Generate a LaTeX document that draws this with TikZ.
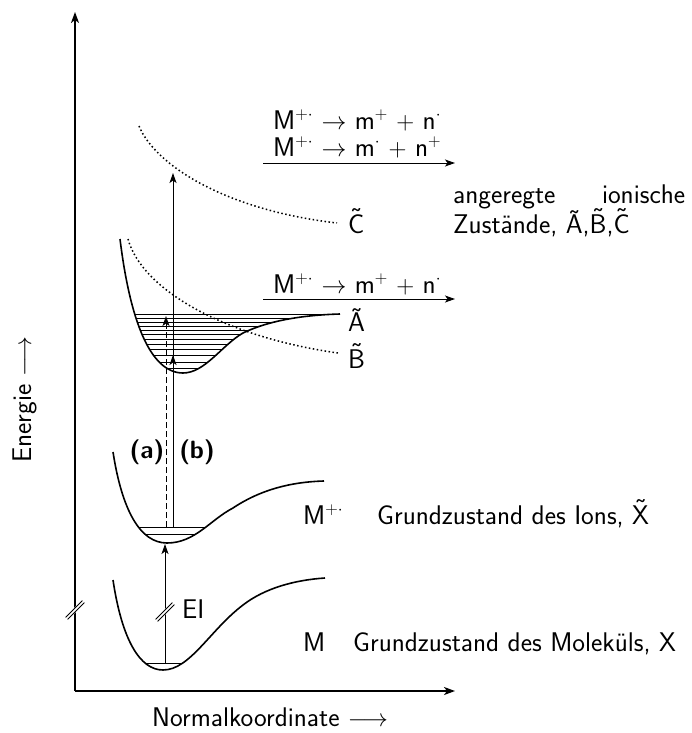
\documentclass[tikz,border=0pt]{standalone}
\usetikzlibrary{arrows.meta}
\newcommand\tld[1]{\ooalign{#1\cr\hidewidth\raisebox{0.236em}{\char"02DC}\hidewidth\cr}}
\begin{document}
\begin{tikzpicture}[x=1pt,y=-1pt,
  font=\fontsize{27}{32}\selectfont\sffamily,
  axis/.style={line width=1.6pt,-{Stealth[length=11pt,width=8pt,inset=3pt]}},
  curve/.style={line width=1.6pt},
  lvl/.style={line width=0.7pt},
  trans/.style={line width=1pt,-{Stealth[length=10pt,width=7pt,inset=2.5pt]}},
  dotc/.style={line width=1.5pt,dash pattern=on 1.5pt off 2.5pt},
  lbl/.style={anchor=base west,inner sep=0pt},
  brk/.pic={\draw[white,line width=4pt] (-8,8)--(8,-8);
            \draw[line width=0.8pt] (-7.4,9.4)--(9.4,-7.4) (-9.4,7.4)--(7.4,-9.4);}
]
\useasboundingbox (0,0) rectangle (692,733);
% axes
\coordinate (O) at (75,691);
\coordinate (Ytop) at (75,12);
\coordinate (Xend) at (455,691);
\draw[axis] (O) -- (Ytop);
\draw[axis] (O) -- (Xend);
\path (75,610) pic {brk};
\node[lbl,rotate=90] (ylab) at (31,463) {Energie $\longrightarrow$};
\node[lbl] (xlab) at (152,726) {Normalkoordinate $\longrightarrow$};

% lower curve M
\begin{scope}
\clip (113,580) .. controls (122,640) and (140,670) .. (163,670) .. controls (190,670) and (210,630) .. (243,605) .. controls (265,588) and (295,580) .. (325,578) -- (325,560) -- (113,560) -- cycle;
\draw[lvl] (100,663) -- (330,663);
\end{scope}
\draw[curve] (113,580) .. controls (122,640) and (140,670) .. (163,670) .. controls (190,670) and (210,630) .. (243,605) .. controls (265,588) and (295,580) .. (325,578);

% middle curve M+.
\begin{scope}
\clip (113,452) .. controls (122,510) and (140,543) .. (167,543) .. controls (195,543) and (210,520) .. (233,508) .. controls (260,490) and (290,482) .. (324,481) -- (324,440) -- (113,440) -- cycle;
\draw[lvl] (100,527) -- (330,527);
\draw[lvl] (100,534) -- (330,534);
\end{scope}
\draw[curve] (113,452) .. controls (122,510) and (140,543) .. (167,543) .. controls (195,543) and (210,520) .. (233,508) .. controls (260,490) and (290,482) .. (324,481);

% upper curve A
\begin{scope}
\clip (120,239) .. controls (130,320) and (150,373) .. (183,373) .. controls (205,373) and (222,345) .. (243,333) .. controls (270,320) and (305,315) .. (340,314) -- (340,300) -- (120,300) -- cycle;
\foreach \yy in {314.5,318,322,326,330,334.5,339,344,349.5,355.5,362,368}
  \draw[lvl] (100,\yy) -- (345,\yy);
\end{scope}
\draw[curve] (120,239) .. controls (130,320) and (150,373) .. (183,373) .. controls (205,373) and (222,345) .. (243,333) .. controls (270,320) and (305,315) .. (340,314);

% dotted curves
\draw[dotc] (139,126) .. controls (155,165) and (225,210) .. (337,223);
\draw[dotc] (128,239) .. controls (142,290) and (225,337) .. (338,353);

% transitions
\coordinate (eiS) at (165,663);
\coordinate (eiE) at (165,544);
\draw[trans] (eiS) -- (eiE);
\path (165,612) pic {brk};
\node[lbl] (EI) at (182,618) {EI};

\coordinate (aS) at (166,527);
\coordinate (aE) at (166,316);
\draw[trans,dash pattern=on 6pt off 3pt] (aS) -- (aE);
\coordinate (bS) at (173,527);
\coordinate (bM) at (173,355);
\coordinate (bE) at (173,173);
\draw[trans] (bS) -- (bE);
\draw[trans] (bS) -- (bM);
\node[font=\fontsize{25}{30}\selectfont\sffamily\bfseries] (la) at (147,452) {(a)};
\node[font=\fontsize{25}{30}\selectfont\sffamily\bfseries] (lb) at (197,452) {(b)};

% fragmentation arrows
\coordinate (f1S) at (263,163);
\coordinate (f1E) at (455,163);
\draw[trans] (f1S) -- (f1E);
\coordinate (f2S) at (263,299);
\coordinate (f2E) at (455,299);
\draw[trans] (f2S) -- (f2E);
\node[lbl] (r1) at (273,129) {M$^{+\cdot}$ $\rightarrow$ m$^{+}$ $+$ n$^{\cdot}$};
\node[lbl] (r2) at (273,156) {M$^{+\cdot}$ $\rightarrow$ m$^{\cdot}$ $+$ n$^{+}$};
\node[lbl] (r3) at (273,293) {M$^{+\cdot}$ $\rightarrow$ m$^{+}$ $+$ n$^{\cdot}$};

% state labels
\node[lbl] (C) at (348,233) {\tld{C}};
\node[lbl] (A) at (348,331) {Ã};
\node[lbl] (B) at (348,368) {\tld{B}};
\node[lbl] (ang) at (453,203) {\hbox to 232pt{angeregte\hfill ionische}};
\node[lbl] (zus) at (453,233) {Zustände, Ã,\tld{B},\tld{C}};
\node[lbl] (Mp) at (303,524) {M$^{+\cdot}$};
\node[lbl] (gi) at (377,524) {Grundzustand des Ions, \tld{X}};
\node[lbl] (M) at (303,651) {M};
\node[lbl] (gm) at (353,651) {Grundzustand des Moleküls, X};
\end{tikzpicture}
\end{document}
